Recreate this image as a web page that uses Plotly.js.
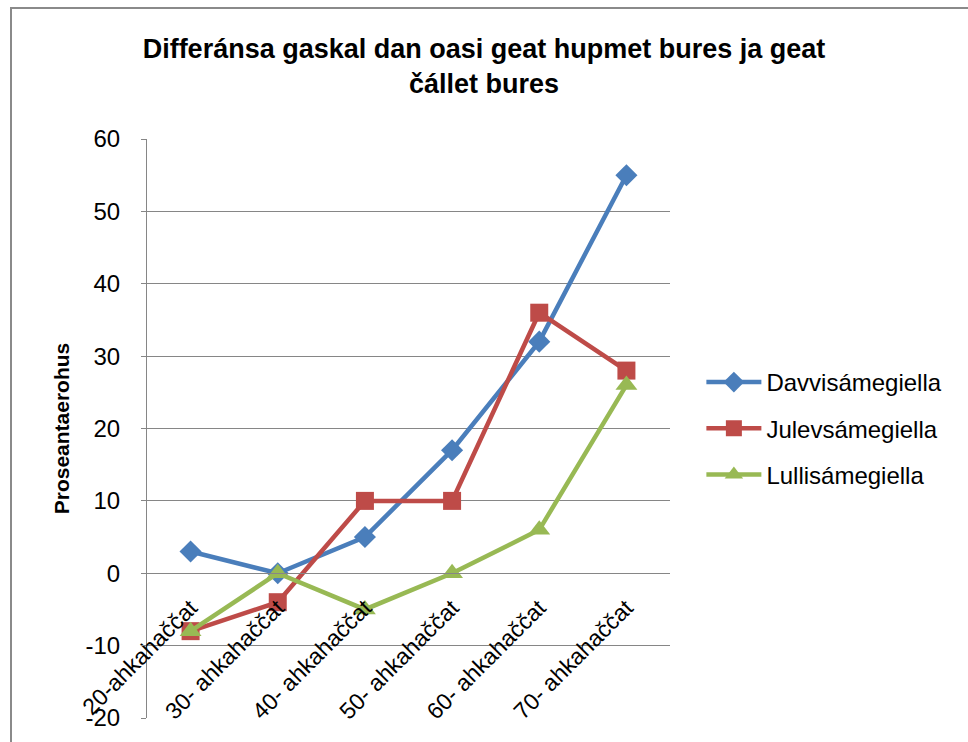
<!DOCTYPE html>
<html>
<head>
<meta charset="utf-8">
<script src="https://cdn.plot.ly/plotly-3.0.1.min.js"></script>
<style>
  html, body { margin: 0; padding: 0; background: #fff; }
  #chart { width: 968px; height: 742px; position: absolute; left: 0; top: 0; }
  #frame { position: absolute; left: 10px; top: 7px; width: 980px; height: 760px;
           border-left: 2px solid #8a8a8a; border-top: 2px solid #8a8a8a; pointer-events: none; }
</style>
</head>
<body>
<div id="chart"></div>
<div id="frame"></div>
<script>
const categories = ["20-ahkahaččat", "30- ahkahaččat", "40- ahkahaččat", "50- ahkahaččat", "60- ahkahaččat", "70- ahkahaččat"];
const davvi = [3, 0, 5, 17, 32, 55];
const julev = [-8, -4, 10, 10, 36, 28];
const lulli = [-8, 0, -5, 0, 6, 26];
const seriesNames = ["Davvisámegiella", "Julevsámegiella", "Lullisámegiella"];
const yTickVals = [-20, -10, 0, 10, 20, 30, 40, 50, 60];
const yTickText = ["-20", "-10", "0", "10", "20", "30", "40", "50", "60"];

const FONT = "Liberation Sans, Arial, sans-serif";

const traces = [
  { x: categories, y: davvi, name: seriesNames[0], legendgroup: "a", type: "scatter", mode: "lines+markers",
    line: { color: "#4A7EBB", width: 4.5 },
    marker: { symbol: "diamond", size: 17, color: "#4A7EBB" } },
  { x: categories, y: julev, name: seriesNames[1], legendgroup: "b", type: "scatter", mode: "lines+markers",
    line: { color: "#BE4B48", width: 4.5 },
    marker: { symbol: "square", size: 18, color: "#BE4B48" } },
  { x: categories, y: lulli, name: seriesNames[2], legendgroup: "c", type: "scatter", mode: "lines+markers",
    line: { color: "#98B954", width: 4.5 },
    marker: { symbol: "triangle-up", size: 19, color: "#98B954" } }
];

const layout = {
  width: 968, height: 742,
  margin: { l: 147, r: 298, t: 139, b: 24, pad: 0 },
  paper_bgcolor: "#ffffff", plot_bgcolor: "#ffffff",
  font: { family: FONT, size: 22, color: "#000" },
  showlegend: true,
  title: {
    text: "Differánsa gaskal dan oasi geat hupmet bures ja geat<br>čállet bures",
    font: { family: FONT, size: 27, color: "#000", weight: "bold" },
    xref: "container", x: 0.5, xanchor: "center",
    yref: "container", y: 0.922, yanchor: "top"
  },
  xaxis: {
    type: "category",
    range: [-0.5, 5.5],
    anchor: "free", position: 0.25,
    showgrid: false, zeroline: false,
    showline: true, linecolor: "#868686", linewidth: 1,
    ticks: "", tickangle: -45,
    ticklabelstandoff: 11,
    tickfont: { family: FONT, size: 23, color: "#000" },
    automargin: false
  },
  yaxis: {
    range: [-20, 60],
    tickvals: yTickVals,
    ticktext: yTickText,
    showgrid: true, gridcolor: "#868686", gridwidth: 1,
    zeroline: false,
    showline: true, linecolor: "#868686", linewidth: 1,
    ticks: "outside", ticklen: 5, tickcolor: "#868686",
    ticklabelstandoff: 16,
    tickfont: { family: FONT, size: 24, color: "#000" },
    title: { text: "Proseantaerohus", font: { family: FONT, size: 21, color: "#000", weight: "bold" }, standoff: 10 },
    automargin: true
  },
  legend: {
    x: 1.06, xanchor: "left", y: 0.5, yanchor: "middle",
    font: { family: FONT, size: 24, color: "#000" },
    itemwidth: 55,
    tracegroupgap: 12,
    bgcolor: "rgba(0,0,0,0)"
  }
};

Plotly.newPlot("chart", traces, layout, { displayModeBar: false, staticPlot: true });
</script>
</body>
</html>
